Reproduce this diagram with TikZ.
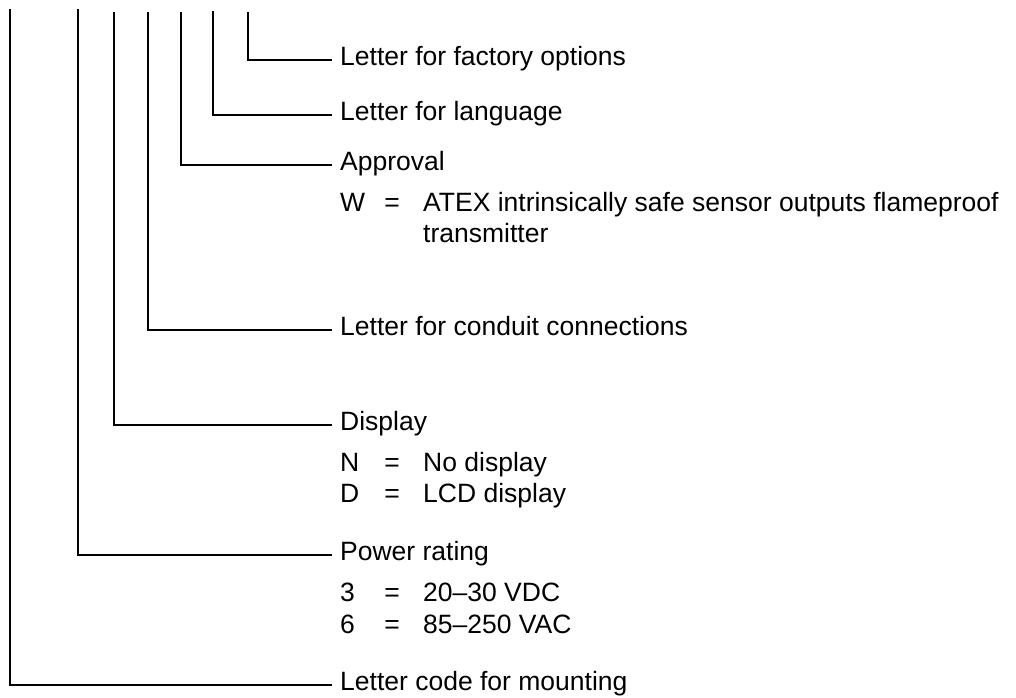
\documentclass[tikz,border=0pt]{standalone}
\usepackage{fontspec}
\setmainfont{Liberation Sans}
\begin{document}
\begin{tikzpicture}[x=1pt,y=-1pt,
  conn/.style={line width=2.4pt,line cap=butt,line join=miter},
  lab/.style={anchor=west,inner xsep=8pt,inner ysep=0pt,text height=16pt,text depth=6pt,font=\fontsize{26.5}{32}\selectfont},
  txt/.style={anchor=base west,inner sep=0pt,font=\fontsize{26.5}{32}\selectfont},
  eqs/.style={anchor=base,inner sep=0pt,font=\fontsize{26.5}{32}\selectfont}]
\useasboundingbox (0,0) rectangle (1016,697);
% tops of the leads
\coordinate (t1) at (248,12);
\coordinate (t2) at (213,11);
\coordinate (t3) at (181,12);
\coordinate (t4) at (148,12);
\coordinate (t5) at (114,12);
\coordinate (t6) at (78,9);
\coordinate (t7) at (10,9);
% labels
\node[lab] (l1) at (332,60) {Letter for factory options};
\node[lab] (l2) at (332,115) {Letter for language};
\node[lab] (l3) at (332,165) {Approval};
\node[lab] (l4) at (332,330) {Letter for conduit connections};
\node[lab] (l5) at (332,425) {Display};
\node[lab] (l6) at (332,555) {Power rating};
\node[lab] (l7) at (332,685) {Letter code for mounting};
% connectors
\draw[conn] (t1) |- (l1.west);
\draw[conn] (t2) |- (l2.west);
\draw[conn] (t3) |- (l3.west);
\draw[conn] (t4) |- (l4.west);
\draw[conn] (t5) |- (l5.west);
\draw[conn] (t6) |- (l6.west);
\draw[conn] (t7) |- (l7.west);
% approval options
\node[txt] (wk) at (340,211) {W};
\node[eqs] (we) at (392,211) {=};
\node[txt] (wv) at (423,211) {ATEX intrinsically safe sensor outputs flameproof};
\node[txt] (wv2) at (423,242) {transmitter};
% display options
\node[txt] (nk) at (340,471) {N};
\node[eqs] (ne) at (392,471) {=};
\node[txt] (nv) at (423,471) {No display};
\node[txt] (dk) at (340,502) {D};
\node[eqs] (de) at (392,502) {=};
\node[txt] (dv) at (423,502) {LCD display};
% power options
\node[txt] (pk3) at (340,601) {3};
\node[eqs] (pe3) at (392,601) {=};
\node[txt] (pv3) at (423,601) {20--30 VDC};
\node[txt] (pk6) at (340,633) {6};
\node[eqs] (pe6) at (392,633) {=};
\node[txt] (pv6) at (423,633) {85--250 VAC};
\end{tikzpicture}
\end{document}
